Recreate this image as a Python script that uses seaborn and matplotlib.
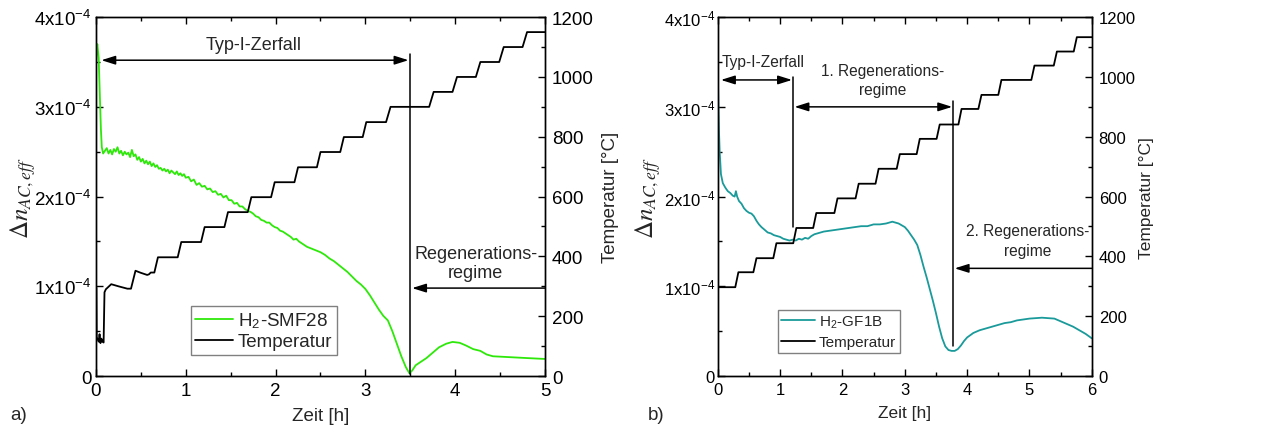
import numpy as np
import pandas as pd
import matplotlib
matplotlib.use("Agg")
import matplotlib.pyplot as plt
import seaborn as sns
from matplotlib.ticker import MultipleLocator
from matplotlib.lines import Line2D

# ---------------- data (delta n in units of 1e-4) ----------------
smf_t = [0.00, 0.008, 0.015, 0.03, 0.045, 0.055, 0.065, 0.08, 0.10, 0.12, 0.14, 0.16, 0.18, 0.20, 0.22,
         0.24, 0.26, 0.28, 0.30, 0.32, 0.34, 0.36, 0.38, 0.40, 0.42, 0.44, 0.46, 0.48, 0.50, 0.52,
         0.54, 0.56, 0.58, 0.60, 0.62, 0.64, 0.66, 0.68, 0.70, 0.72, 0.74, 0.76, 0.78, 0.80, 0.82,
         0.84, 0.86, 0.88, 0.90, 0.92, 0.94, 0.96, 0.98, 1.00, 1.03, 1.06, 1.09, 1.12, 1.15, 1.18,
         1.21, 1.24, 1.27, 1.30, 1.33, 1.36, 1.39, 1.42, 1.45, 1.48, 1.51, 1.54, 1.57, 1.60, 1.63,
         1.66, 1.69, 1.72, 1.75, 1.78, 1.81, 1.84, 1.87, 1.90, 1.93, 1.96, 1.99, 2.02, 2.05, 2.08,
         2.11, 2.14, 2.17, 2.20, 2.23, 2.26, 2.29, 2.32, 2.35, 2.40, 2.45, 2.50, 2.55, 2.60, 2.65,
         2.70, 2.75, 2.80, 2.85, 2.90, 2.95, 3.00, 3.05, 3.10, 3.15, 3.20, 3.25, 3.30, 3.35, 3.40,
         3.45, 3.49, 3.52, 3.56, 3.62, 3.68, 3.75, 3.82, 3.90, 3.97, 4.05, 4.12, 4.20, 4.28, 4.35,
         4.42, 4.60, 4.80, 5.00]
smf_dn = [3.45, 3.62, 3.70, 3.55, 3.05, 2.75, 2.55, 2.48, 2.51, 2.54, 2.48, 2.52, 2.47, 2.53, 2.50,
          2.55, 2.48, 2.51, 2.46, 2.50, 2.47, 2.49, 2.44, 2.52, 2.45, 2.47, 2.41, 2.44, 2.39, 2.42,
          2.37, 2.40, 2.36, 2.39, 2.34, 2.37, 2.33, 2.35, 2.31, 2.32, 2.29, 2.31, 2.28, 2.30, 2.26,
          2.29, 2.27, 2.25, 2.28, 2.24, 2.26, 2.23, 2.25, 2.21, 2.22, 2.17, 2.19, 2.13, 2.15, 2.11,
          2.12, 2.08, 2.09, 2.05, 2.06, 2.02, 2.03, 1.99, 2.01, 1.96, 1.96, 1.92, 1.93, 1.89, 1.89,
          1.86, 1.84, 1.83, 1.81, 1.78, 1.77, 1.74, 1.73, 1.71, 1.71, 1.68, 1.66, 1.65, 1.62, 1.61,
          1.59, 1.57, 1.55, 1.52, 1.53, 1.50, 1.48, 1.46, 1.44, 1.42, 1.40, 1.38, 1.35, 1.31, 1.28,
          1.24, 1.20, 1.16, 1.11, 1.06, 1.02, 0.97, 0.90, 0.82, 0.74, 0.67, 0.62, 0.50, 0.36, 0.22,
          0.10, 0.03, 0.06, 0.12, 0.16, 0.20, 0.26, 0.32, 0.36, 0.38, 0.37, 0.34, 0.30, 0.28, 0.24,
          0.22, 0.21, 0.20, 0.19]

# temperature, left panel: initial glitch points, then plateaus (start, end, level)
smf_T_t0 = [0.00, 0.005, 0.008, 0.03, 0.04, 0.05, 0.06, 0.075, 0.085, 0.095, 0.11, 0.17, 0.25, 0.35, 0.39,
            0.44, 0.50, 0.57, 0.59, 0.61, 0.65]
smf_T_v0 = [295, 295, 130, 115, 140, 110, 125, 115, 112, 280, 290, 307, 300, 292, 292,
            352, 345, 338, 340, 346, 346]
smf_pl_start = [0.69, 0.95, 1.21, 1.47, 1.73, 1.99, 2.25, 2.50, 2.76, 3.01, 3.28, 3.76, 4.02, 4.28, 4.54, 4.80]
smf_pl_end = [0.91, 1.17, 1.43, 1.69, 1.95, 2.21, 2.46, 2.72, 2.97, 3.23, 3.71, 3.97, 4.23, 4.49, 4.75, 5.00]
smf_pl_T = [397, 448, 498, 548, 598, 648, 698, 749, 799, 849, 900, 950, 1000, 1050, 1100, 1150]

gf_t = [0.00, 0.01, 0.02, 0.03, 0.05, 0.08, 0.12, 0.16, 0.20, 0.24, 0.27, 0.29, 0.31, 0.34, 0.38,
        0.42, 0.46, 0.50, 0.54, 0.58, 0.62, 0.66, 0.70, 0.75, 0.80, 0.85, 0.90, 0.95, 1.00, 1.05,
        1.10, 1.15, 1.20, 1.25, 1.30, 1.35, 1.40, 1.45, 1.50, 1.55, 1.60, 1.65, 1.70, 1.80, 1.90,
        2.00, 2.10, 2.20, 2.30, 2.40, 2.50, 2.60, 2.70, 2.80, 2.85, 2.90, 2.95, 3.00, 3.05, 3.10,
        3.15, 3.20, 3.25, 3.30, 3.35, 3.40, 3.45, 3.50, 3.55, 3.60, 3.65, 3.70, 3.75, 3.80, 3.85,
        3.90, 3.95, 4.00, 4.10, 4.20, 4.30, 4.40, 4.50, 4.60, 4.70, 4.80, 4.90, 5.00, 5.10, 5.20,
        5.30, 5.40, 5.50, 5.60, 5.70, 5.80, 5.90, 6.00]
gf_dn = [3.40, 3.00, 2.70, 2.50, 2.25, 2.15, 2.10, 2.06, 2.04, 2.01, 2.00, 2.06, 2.00, 1.95, 1.92,
         1.87, 1.84, 1.82, 1.81, 1.78, 1.73, 1.69, 1.66, 1.63, 1.60, 1.59, 1.57, 1.56, 1.55, 1.53,
         1.52, 1.51, 1.52, 1.51, 1.53, 1.52, 1.54, 1.53, 1.56, 1.58, 1.59, 1.60, 1.61, 1.62, 1.63,
         1.64, 1.65, 1.66, 1.67, 1.67, 1.69, 1.69, 1.70, 1.72, 1.71, 1.70, 1.68, 1.66, 1.62, 1.57,
         1.52, 1.46, 1.35, 1.22, 1.10, 0.97, 0.84, 0.70, 0.55, 0.42, 0.33, 0.29, 0.28, 0.28, 0.30,
         0.34, 0.39, 0.43, 0.48, 0.51, 0.53, 0.55, 0.57, 0.59, 0.60, 0.62, 0.63, 0.64, 0.645, 0.65,
         0.645, 0.64, 0.61, 0.58, 0.55, 0.51, 0.47, 0.42]

gf_pl_start = [0.00, 0.33, 0.62, 0.94, 1.26, 1.58, 1.92, 2.26, 2.58, 2.92, 3.24, 3.56, 3.91, 4.23, 4.55, 5.08, 5.44, 5.76]
gf_pl_end = [0.28, 0.57, 0.89, 1.21, 1.53, 1.87, 2.21, 2.53, 2.87, 3.19, 3.51, 3.86, 4.18, 4.50, 5.03, 5.39, 5.71, 6.00]
gf_pl_T = [297, 347, 394, 444, 495, 545, 594, 643, 693, 742, 793, 841, 893, 940, 990, 1038, 1085, 1133]

dn_ticks = [0, 1, 2, 3, 4]
dn_ticklabels = ["0", r"$\mathregular{1x10^{-4}}$", r"$\mathregular{2x10^{-4}}$",
                 r"$\mathregular{3x10^{-4}}$", r"$\mathregular{4x10^{-4}}$"]
T_ticks = [0, 200, 400, 600, 800, 1000, 1200]

# ---------------- style ----------------
sns.set_theme(style="ticks")
plt.rcParams["font.family"] = ["Liberation Sans", "DejaVu Sans"]
plt.rcParams["mathtext.fontset"] = "stix"
GREEN = "#2ee80a"
TEAL = "#1a9a9a"
FS = 13.5      # left panel
AFS = 13
FSR = 12       # right panel (narrower text in the reference)
AFSR = 11.2

fig = plt.figure(figsize=(12.66, 4.35), dpi=100)
axL = fig.add_axes([0.0758, 0.1333, 0.3547, 0.825])
axR = fig.add_axes([0.567, 0.1333, 0.2954, 0.825])


def plateau_series(t0, v0, starts, ends, levels):
    tt, vv = list(t0), list(v0)
    for s, e, l in zip(starts, ends, levels):
        tt += [s, e]
        vv += [l, l]
    return tt, vv


def setup(ax, xmax, ylab_x, tlab_x, fs, xlab_fs, ypad):
    ax.set_xlim(0, xmax)
    ax.set_ylim(0, 4)
    ax.set_yticks(dn_ticks)
    ax.set_yticklabels(dn_ticklabels)
    ax.xaxis.set_major_locator(MultipleLocator(1))
    ax.xaxis.set_minor_locator(MultipleLocator(0.5))
    ax.yaxis.set_minor_locator(MultipleLocator(0.5))
    ax.tick_params(which="both", direction="in", top=True, right=False, labelsize=fs, width=1, colors="black")
    ax.tick_params(which="major", length=5, pad=4)
    ax.tick_params(which="minor", length=3)
    ax.tick_params(axis="y", which="major", pad=ypad)
    ax.set_xlabel("Zeit [h]", fontsize=xlab_fs, labelpad=6)
    ax.set_ylabel(r"$\Delta n_{AC,eff}$", fontsize=18)
    ax.yaxis.set_label_coords(ylab_x, 0.5)
    for s in ax.spines.values():
        s.set_linewidth(1)
        s.set_color("black")
    tw = ax.twinx()
    tw.set_ylim(0, 1200)
    tw.set_yticks(T_ticks)
    tw.yaxis.set_minor_locator(MultipleLocator(100))
    tw.tick_params(which="both", direction="in", labelsize=fs, width=1, colors="black")
    tw.tick_params(which="major", length=5, pad=5)
    tw.tick_params(which="minor", length=3)
    tw.set_ylabel("Temperatur [°C]", fontsize=xlab_fs)
    tw.yaxis.set_label_coords(tlab_x, 0.5)
    for s in tw.spines.values():
        s.set_linewidth(1)
        s.set_color("black")
    return tw


def arrow(ax, x0, x1, y, both):
    ax.annotate("", xy=(x1, y), xytext=(x0, y),
                arrowprops=dict(arrowstyle=("<|-|>" if both else "-|>") + ",head_length=0.7,head_width=0.22",
                                color="black", lw=1.1, shrinkA=0, shrinkB=0, mutation_scale=12))


# ---------------- left panel ----------------
twL = setup(axL, 5, -0.128, 1.127, FS, FS, 3)
sns.lineplot(x=smf_t, y=smf_dn, ax=axL, color=GREEN, lw=1.3, estimator=None, sort=False, legend=False)
tL, TL = plateau_series(smf_T_t0, smf_T_v0, smf_pl_start, smf_pl_end, smf_pl_T)
sns.lineplot(x=tL, y=TL, ax=twL, color="black", lw=1.3, estimator=None, sort=False, legend=False)
twL.set_xlim(0, 5)

axL.text(1.75, 3.70, "Typ-I-Zerfall", fontsize=AFS, ha="center", va="center")
arrow(axL, 0.06, 3.48, 3.52, True)
axL.plot([3.5, 3.5], [0.02, 3.59], color="black", lw=1.1)
axL.text(4.23, 1.26, "Regenerations-\nregime", fontsize=AFS, ha="center", va="center", linespacing=1.2)
arrow(axL, 5.0, 3.52, 0.98, False)

# ---------------- right panel ----------------
twR = setup(axR, 6, -0.146, 1.126, FSR, 12.5, 2)
sns.lineplot(x=gf_t, y=gf_dn, ax=axR, color=TEAL, lw=1.3, estimator=None, sort=False, legend=False)
tR, TR = plateau_series([], [], gf_pl_start, gf_pl_end, gf_pl_T)
sns.lineplot(x=tR, y=TR, ax=twR, color="black", lw=1.3, estimator=None, sort=False, legend=False)
twR.set_xlim(0, 6)

axR.text(0.06, 3.50, "Typ-I-Zerfall", fontsize=AFSR, ha="left", va="center")
arrow(axR, 0.05, 1.19, 3.30, True)
axR.plot([1.21, 1.21], [1.66, 3.33], color="black", lw=1.1)
axR.text(2.65, 3.30, "1. Regenerations-\nregime", fontsize=AFSR, ha="center", va="center", linespacing=1.35)
arrow(axR, 1.23, 3.76, 3.00, True)
axR.plot([3.78, 3.78], [0.34, 3.07], color="black", lw=1.1)
axR.text(4.97, 1.51, "2. Regenerations-\nregime", fontsize=AFSR, ha="center", va="center", linespacing=1.35)
arrow(axR, 6.0, 3.80, 1.20, False)


# ---------------- legends ----------------
def legend(ax, color, name, anchor, fs, hl, ls):
    h = [Line2D([], [], color=color, lw=1.3), Line2D([], [], color="black", lw=1.3)]
    lg = ax.legend(h, [name, "Temperatur"], loc="lower left", bbox_to_anchor=anchor,
                   prop={"size": fs},
                   frameon=True, fancybox=False, framealpha=1, edgecolor="#808080",
                   handlelength=hl, handletextpad=0.25, borderpad=0.25, labelspacing=ls,
                   borderaxespad=0)
    lg.get_frame().set_linewidth(1)
    lg.set_zorder(10)


legend(twL, GREEN, "H$_\\mathregular{2}$-SMF28", (0.211, 0.0585), FS, 2.0, 0.15)
legend(twR, TEAL, "H$_\\mathregular{2}$-GF1B", (0.160, 0.064), 11, 2.2, 0.35)

fig.text(0.008, 0.044, "a)", fontsize=FS, ha="left", va="center")
fig.text(0.512, 0.044, "b)", fontsize=FS, ha="left", va="center")

fig.savefig("out.png", dpi=100)
